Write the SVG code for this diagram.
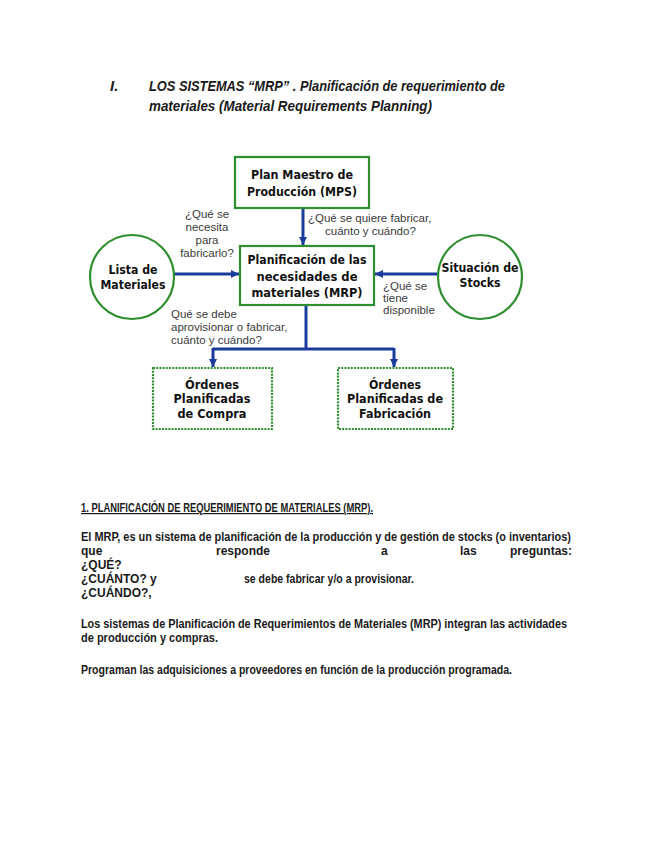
<svg xmlns="http://www.w3.org/2000/svg" width="655" height="848" viewBox="0 0 655 848">
<style>
.title{font-family:"Liberation Sans",Arial,sans-serif;font-size:15px;font-weight:bold;font-style:italic;fill:#1a1a1a}
.node{fill:#fff;stroke:#2f8f2f;stroke-width:2.2}
.dot{stroke-dasharray:2 1.2}
.nt{font-family:"DejaVu Sans",Verdana,sans-serif;font-size:11.5px;font-weight:bold;fill:#111;text-anchor:middle}
.lbl{font-family:"Liberation Sans",Arial,sans-serif;font-size:11.5px;fill:#3a3a3a}
.conn{stroke:#1a3a9c;stroke-width:3;fill:none}
.body{font-family:"Liberation Sans",Arial,sans-serif;font-size:12px;font-weight:bold;fill:#1a1a1a}
</style>
<defs>
<marker id="ah" markerUnits="userSpaceOnUse" markerWidth="10" markerHeight="10" refX="8" refY="5" orient="auto">
<path d="M0,1 L8,5 L0,9 Z" fill="#1a3a9c"/>
</marker>
</defs>
<rect width="655" height="848" fill="#fff"/>

<g id="title">
<text class="title" x="110" y="91" font-style="normal">I.</text>
<text class="title" x="149" y="91" textLength="356" lengthAdjust="spacingAndGlyphs">LOS SISTEMAS “MRP” . Planificación de requerimiento de</text>
<text class="title" x="149" y="111" textLength="283" lengthAdjust="spacingAndGlyphs">materiales (Material Requirements Planning)</text>
</g>

<g id="connectors">
<line class="conn" x1="303" y1="208" x2="303" y2="245" marker-end="url(#ah)"/>
<line class="conn" x1="174" y1="274" x2="239" y2="274" marker-end="url(#ah)"/>
<line class="conn" x1="438" y1="274" x2="375" y2="274" marker-end="url(#ah)"/>
<polyline class="conn" points="306,306 306,349"/>
<polyline class="conn" points="213,349 394,349"/>
<line class="conn" x1="213" y1="348" x2="213" y2="367" marker-end="url(#ah)"/>
<line class="conn" x1="394" y1="348" x2="394" y2="367" marker-end="url(#ah)"/>
</g>

<g id="labels">
<text class="lbl" x="308" y="222">¿Qué se quiere fabricar,</text>
<text class="lbl" x="325" y="235">cuánto y cuándo?</text>
<text class="lbl" x="207" y="218" text-anchor="middle">¿Qué se</text>
<text class="lbl" x="207" y="231" text-anchor="middle">necesita</text>
<text class="lbl" x="207" y="244" text-anchor="middle">para</text>
<text class="lbl" x="207" y="257" text-anchor="middle">fabricarlo?</text>
<text class="lbl" x="383" y="290">¿Qué se</text>
<text class="lbl" x="383" y="302">tiene</text>
<text class="lbl" x="383" y="314">disponible</text>
<text class="lbl" x="171" y="318">Qué se debe</text>
<text class="lbl" x="171" y="331">aprovisionar o fabricar,</text>
<text class="lbl" x="171" y="344">cuánto y cuándo?</text>
</g>

<g id="mps">
<rect class="node" x="235" y="157" width="134" height="51"/>
<text class="nt" x="302" y="179" textLength="102" lengthAdjust="spacingAndGlyphs">Plan Maestro de</text>
<text class="nt" x="302" y="196" textLength="110" lengthAdjust="spacingAndGlyphs">Producción (MPS)</text>
</g>

<g id="mrp">
<rect class="node" x="240" y="246" width="134" height="59"/>
<text class="nt" x="307" y="264" textLength="119" lengthAdjust="spacingAndGlyphs">Planificación de las</text>
<text class="nt" x="307" y="281" textLength="101" lengthAdjust="spacingAndGlyphs">necesidades de</text>
<text class="nt" x="307" y="297" textLength="111" lengthAdjust="spacingAndGlyphs">materiales (MRP)</text>
</g>

<g id="lista">
<circle class="node" cx="132" cy="277" r="42"/>
<text class="nt" x="133" y="274" textLength="49" lengthAdjust="spacingAndGlyphs">Lista de</text>
<text class="nt" x="133" y="289" textLength="65" lengthAdjust="spacingAndGlyphs">Materiales</text>
</g>

<g id="stocks">
<circle class="node" cx="480" cy="277" r="42"/>
<text class="nt" x="480" y="272" textLength="77" lengthAdjust="spacingAndGlyphs">Situación de</text>
<text class="nt" x="480" y="287" textLength="41" lengthAdjust="spacingAndGlyphs">Stocks</text>
</g>

<g id="compra">
<rect class="node dot" x="153" y="368" width="119" height="61"/>
<text class="nt" x="212" y="389" textLength="54" lengthAdjust="spacingAndGlyphs">Órdenes</text>
<text class="nt" x="212" y="403" textLength="77" lengthAdjust="spacingAndGlyphs">Planificadas</text>
<text class="nt" x="212" y="418" textLength="69" lengthAdjust="spacingAndGlyphs">de Compra</text>
</g>

<g id="fabricacion">
<rect class="node dot" x="338" y="368" width="115" height="61"/>
<text class="nt" x="395" y="389" textLength="52" lengthAdjust="spacingAndGlyphs">Órdenes</text>
<text class="nt" x="395" y="403" textLength="96" lengthAdjust="spacingAndGlyphs">Planificadas de</text>
<text class="nt" x="395" y="418" textLength="72" lengthAdjust="spacingAndGlyphs">Fabricación</text>
</g>

<g id="texto">
<text class="body" x="81" y="512" textLength="292" lengthAdjust="spacingAndGlyphs" text-decoration="underline">1. PLANIFICACIÓN DE REQUERIMIENTO DE MATERIALES (MRP).</text>
<text class="body" x="81" y="541" textLength="490" lengthAdjust="spacingAndGlyphs">El MRP, es un sistema de planificación de la producción y de gestión de stocks (o inventarios)</text>
<text class="body" x="81" y="555">que</text>
<text class="body" x="216" y="555">responde</text>
<text class="body" x="381" y="555">a</text>
<text class="body" x="460" y="555">las</text>
<text class="body" x="510" y="555">preguntas:</text>
<text class="body" x="81" y="569">¿QUÉ?</text>
<text class="body" x="81" y="583">¿CUÁNTO? y</text>
<text class="body" x="244" y="583" textLength="170" lengthAdjust="spacingAndGlyphs">se debe fabricar y/o a provisionar.</text>
<text class="body" x="81" y="597">¿CUÁNDO?,</text>
<text class="body" x="81" y="628" textLength="486" lengthAdjust="spacingAndGlyphs">Los sistemas de Planificación de Requerimientos de Materiales (MRP) integran las actividades</text>
<text class="body" x="81" y="642" textLength="137" lengthAdjust="spacingAndGlyphs">de producción y compras.</text>
<text class="body" x="81" y="674" textLength="431" lengthAdjust="spacingAndGlyphs">Programan las adquisiciones a proveedores en función de la producción programada.</text>
</g>
</svg>
